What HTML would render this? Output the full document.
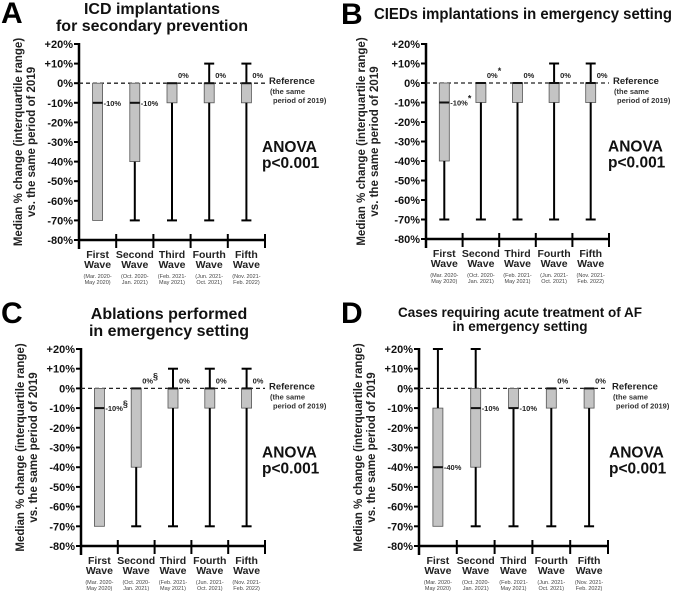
<!DOCTYPE html>
<html><head><meta charset="utf-8">
<style>
html,body{margin:0;padding:0;background:#fff;}
svg{display:block;font-family:"Liberation Sans",Arial,sans-serif;}
</style></head>
<body>
<svg id="fig" width="676" height="595" viewBox="0 0 676 595" xmlns="http://www.w3.org/2000/svg"></svg>
<script>
// Shared categories
const categories = ["First|Wave","Second|Wave","Third|Wave","Fourth|Wave","Fifth|Wave"];
const periods = ["(Mar. 2020-|May 2020)","(Oct. 2020-|Jan. 2021)","(Feb. 2021-|May 2021)","(Jun. 2021-|Oct. 2021)","(Nov. 2021-|Feb. 2022)"];
const yTicks = [20,10,0,-10,-20,-30,-40,-50,-60,-70,-80];
const yTickLabels = ["+20%","+10%","0%","-10%","-20%","-30%","-40%","-50%","-60%","-70%","-80%"];

// Panel A
const aMin = [-70,-70,-70,-70,-70];
const aQ1  = [-70,-40,-10,-10,-10];
const aMed = [-10,-10,0,0,0];
const aQ3  = [0,0,0,0,0];
const aMax = [0,0,0,10,10];
const aLbl = ["-10%","-10%","0%","0%","0%"];
const aSup = ["","","","",""];
// Panel B
const bMin = [-70,-70,-70,-70,-70];
const bQ1  = [-40,-10,-10,-10,-10];
const bMed = [-10,0,0,0,0];
const bQ3  = [0,0,0,0,0];
const bMax = [0,0,0,10,10];
const bLbl = ["-10%","0%","0%","0%","0%"];
const bSup = ["*","*","","",""];
// Panel C
const cMin = [-70,-70,-70,-70,-70];
const cQ1  = [-70,-40,-10,-10,-10];
const cMed = [-10,0,0,0,0];
const cQ3  = [0,0,0,0,0];
const cMax = [0,0,10,10,10];
const cLbl = ["-10%","0%","0%","0%","0%"];
const cSup = ["§","§","","",""];
// Panel D
const dMin = [-70,-70,-70,-70,-70];
const dQ1  = [-70,-40,-10,-10,-10];
const dMed = [-40,-10,-10,0,0];
const dQ3  = [-10,0,0,0,0];
const dMax = [20,20,0,0,0];
const dLbl = ["-40%","-10%","-10%","0%","0%"];
const dSup = ["","","","",""];

const NS="http://www.w3.org/2000/svg";
const svg=document.getElementById('fig');
function mk(tag,attrs,parent,text){
  const e=document.createElementNS(NS,tag);
  for(const k in attrs)e.setAttribute(k,attrs[k]);
  if(text!==undefined)e.textContent=text;
  (parent||svg).appendChild(e);return e;
}

function panel(cfg){
  const g=mk('g',{});
  
  
  const x0=cfg.x0,x1=cfg.x1,yT=cfg.yT,yB=cfg.yB;
  const y=v=>yT+(20-v)/100*(yB-yT);
  const gw=(x1-x0)/5;
  const cx=i=>x0+gw*(i+0.5);
  const L=mk('text',{x:cfg.lx,y:cfg.ly,'font-size':30,'font-weight':'bold',fill:'#000'},g,cfg.letter);
  
  
  cfg.title.forEach((t,k)=>{
    const a={x:cfg.tx,y:cfg.ty+k*cfg.tls,'font-size':cfg.tfs,'font-weight':'bold','text-anchor':cfg.tanchor||'middle',fill:'#111'};
    if(cfg.tlen){a.textLength=cfg.tlen;a.lengthAdjust='spacingAndGlyphs';}
    const T=mk('text',a,g,t);
    
    
  });
  const ymid=(yT+yB)/2;
  const yt=mk('text',{transform:`translate(${x0-(cfg.yto||57)},${ymid}) rotate(-90)`,'font-size':11.5,'font-weight':'bold','text-anchor':'middle',fill:'#222'},g);
  
  
  mk('tspan',{x:0,dy:0},yt,'Median % change (interquartile range)');
  mk('tspan',{x:0,dy:13},yt,'vs. the same period of 2019');
  yTicks.forEach((v,i)=>{
    mk('line',{x1:x0-5,x2:x0,y1:y(v),y2:y(v),stroke:'#000','stroke-width':2},g);
    const t=mk('text',{x:x0-6,y:y(v)+4,'font-size':11,'font-weight':'bold','text-anchor':'end',fill:'#111'},g,yTickLabels[i]);
    
    
  });
  const ya=mk('line',{x1:x0,x2:x0,y1:yT-1,y2:yB+9,stroke:'#000','stroke-width':2.5},g);
  
  
  const xa=mk('line',{x1:x0,x2:x1,y1:yB,y2:yB,stroke:'#000','stroke-width':2.5},g);
  
  
  for(let i=1;i<=5;i++)mk('line',{x1:x0+gw*i,x2:x0+gw*i,y1:yB-6,y2:yB+8,stroke:'#000','stroke-width':2},g);
  const rl=mk('line',{x1:x0,x2:x1,y1:y(0),y2:y(0),stroke:'#222','stroke-width':1.3,'stroke-dasharray':'4,3'},g);
  
  
  const rx=x1+4;
  const r1=mk('text',{x:rx,y:y(0)+1,'font-size':9.5,'font-weight':'bold',fill:'#222'},g,'Reference');
  
  
  mk('text',{x:rx+1,y:y(0)+11,'font-size':7.5,'font-weight':'bold',fill:'#333'},g,'(the same');
  mk('text',{x:rx+4,y:y(0)+20,'font-size':7.5,'font-weight':'bold',fill:'#333'},g,'period of 2019)');
  categories.forEach((c,i)=>{
    const p=c.split('|');
    const t=mk('text',{x:cx(i),y:yB+18,'font-size':10.5,'font-weight':'bold','text-anchor':'middle',fill:'#222'},g);
    
    
    mk('tspan',{x:cx(i),dy:0},t,p[0]);
    mk('tspan',{x:cx(i),dy:10},t,p[1]);
    const q=periods[i].split('|');
    mk('text',{x:cx(i),y:yB+38,'font-size':5.5,'text-anchor':'middle',fill:'#444'},g,q[0]);
    mk('text',{x:cx(i),y:yB+44,'font-size':5.5,'text-anchor':'middle',fill:'#444'},g,q[1]);
  });
  const bw=10;
  for(let i=0;i<5;i++){
    const c=cx(i);
    const bx=mk('rect',{x:c-bw/2,y:y(cfg.q3[i]),width:bw,height:Math.max(0.5,y(cfg.q1[i])-y(cfg.q3[i])),fill:'#c4c4c4',stroke:'#555','stroke-width':0.8},g);
    
    
    if(cfg.min[i]<cfg.q1[i]){
      const w=mk('line',{x1:c,x2:c,y1:y(cfg.q1[i]),y2:y(cfg.min[i]),stroke:'#000','stroke-width':2},g);
      
      
      mk('line',{x1:c-5,x2:c+5,y1:y(cfg.min[i]),y2:y(cfg.min[i]),stroke:'#000','stroke-width':2},g);
    }
    if(cfg.max[i]>cfg.q3[i]){
      const w=mk('line',{x1:c,x2:c,y1:y(cfg.q3[i]),y2:y(cfg.max[i]),stroke:'#000','stroke-width':2},g);
      
      
      mk('line',{x1:c-5,x2:c+5,y1:y(cfg.max[i]),y2:y(cfg.max[i]),stroke:'#000','stroke-width':2},g);
    }
    const m=mk('line',{x1:c-bw/2,x2:c+bw/2,y1:y(cfg.med[i]),y2:y(cfg.med[i]),stroke:'#111','stroke-width':2},g);
    
    
    const above=cfg.med[i]===0;
    const ly=above? y(cfg.med[i])-5 : y(cfg.med[i])+3;
    const lt=mk('text',{x:c+bw/2+1,y:ly,'font-size':7.5,'font-weight':'bold',fill:'#222'},g,cfg.lbl[i]);
    
    
    if(cfg.sup[i]) mk('tspan',{dy:-4,'font-size':9},lt,cfg.sup[i]);
  }
  const an=mk('text',{x:cfg.ax,y:ymid+10,'font-size':15.5,'font-weight':'bold',fill:'#111'},g);
  
  
  mk('tspan',{x:cfg.ax,dy:0},an,'ANOVA');
  mk('tspan',{x:cfg.ax,dy:16},an,'p<0.001');
}

panel({letter:'A',lx:1,ly:23,title:['ICD implantations','for secondary prevention'],tx:152,ty:14,tls:17,tfs:16,
  x0:79,x1:265,yT:44,yB:240,ax:262,min:aMin,q1:aQ1,med:aMed,q3:aQ3,max:aMax,lbl:aLbl,sup:aSup});
panel({letter:'B',lx:341,ly:24,title:['CIEDs implantations in emergency setting'],tx:374,ty:19,tls:17,tfs:16,tanchor:'start',tlen:298,yto:61,
  x0:426,x1:609,yT:44,yB:239,ax:608,min:bMin,q1:bQ1,med:bMed,q3:bQ3,max:bMax,lbl:bLbl,sup:bSup});
panel({letter:'C',lx:1,ly:323,title:['Ablations performed','in emergency setting'],tx:169,ty:319,tls:17,tfs:16,
  x0:81,x1:265,yT:349,yB:546,ax:262,min:cMin,q1:cQ1,med:cMed,q3:cQ3,max:cMax,lbl:cLbl,sup:cSup});
panel({letter:'D',lx:341,ly:323,title:['Cases requiring acute treatment of AF','in emergency setting'],tx:520,ty:317,tls:14,tfs:13.5,
  x0:419,x1:608,yT:349,yB:546,ax:609,min:dMin,q1:dQ1,med:dMed,q3:dQ3,max:dMax,lbl:dLbl,sup:dSup});
</script>
</body></html>
